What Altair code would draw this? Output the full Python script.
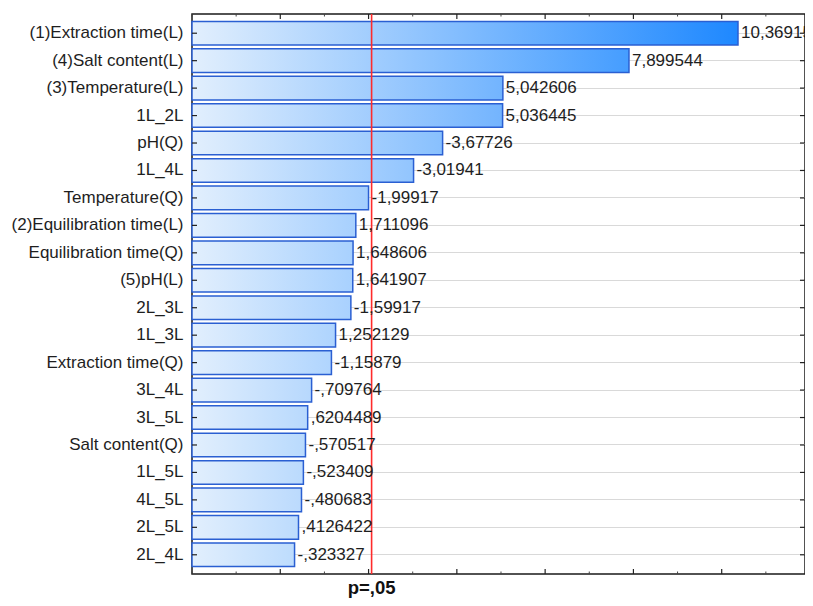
import altair as alt
import pandas as pd

terms = ["(1)Extraction time(L)", "(4)Salt content(L)", "(3)Temperature(L)", "1L_2L",
         "pH(Q)", "1L_4L", "Temperature(Q)", "(2)Equilibration time(L)",
         "Equilibration time(Q)", "(5)pH(L)", "2L_3L", "1L_3L", "Extraction time(Q)",
         "3L_4L", "3L_5L", "Salt content(Q)", "1L_5L", "4L_5L", "2L_5L", "2L_4L"]
effects = [10.36915, 7.899544, 5.042606, 5.036445, -3.67726, -3.01941, -1.99917,
           1.711096, 1.648606, 1.641907, -1.59917, 1.252129, -1.15879, -0.709764,
           0.6204489, -0.570517, -0.523409, -0.480683, 0.4126422, -0.323327]
labels = ["10,36915", "7,899544", "5,042606", "5,036445", "-3,67726", "-3,01941",
          "-1,99917", "1,711096", "1,648606", "1,641907", "-1,59917", "1,252129",
          "-1,15879", "-,709764", ",6204489", "-,570517", "-,523409", "-,480683",
          ",4126422", "-,323327"]
p_crit = 2.0687
p_label = "p=,05"
x_ticks = [-2, -1, 0, 1, 2, 3, 4, 5, 6, 7, 8, 9, 10, 11]
x_major = [0, 2, 4, 6, 8, 10]

df = pd.DataFrame({"term": terms, "effect": effects, "label": labels,
                   "absval": [abs(v) for v in effects]})

W, H = 613, 560
XMIN, XMAX = -2, 11.887
xs = alt.Scale(domain=[XMIN, XMAX], nice=False, zero=False)
ys = alt.Scale(domain=terms, paddingInner=0.14, paddingOuter=0.27)

FONT = "Liberation Sans"
c_start = (226, 239, 253)
c_end = (30, 136, 255)
v_end = max(abs(v) for v in effects)


def col_at(v):
    f = (v - XMIN) / (v_end - XMIN)
    f = max(0.0, min(1.0, f))
    r, g, b = [round(a + (b_ - a) * f) for a, b_ in zip(c_start, c_end)]
    return "#%02x%02x%02x" % (r, g, b)


def Y():
    return alt.Y("term:N", sort=terms, scale=ys, title=None)


def X(field="absval:Q"):
    return alt.X(field, scale=xs, axis=None)


layers = []
for t, v in zip(terms, effects):
    grad = alt.LinearGradient(
        gradient="linear",
        stops=[alt.GradientStop(color=col_at(XMIN), offset=0),
               alt.GradientStop(color=col_at(abs(v)), offset=1)],
        x1=0, x2=1, y1=0, y2=0,
    )
    layers.append(
        alt.Chart(df).transform_filter(alt.datum.term == t).mark_bar(
            color=grad, stroke="#2a5fd2", strokeWidth=1.5
        ).encode(x=X(), x2=alt.datum(XMIN), y=Y())
    )

text = alt.Chart(df).mark_text(align="left", baseline="middle", dx=3, fontSize=17,
                               font=FONT, color="#1e1e1e").encode(
    x=X(), y=Y(), text="label:N",
)

rule = alt.Chart(pd.DataFrame({"p": [p_crit]})).mark_rule(color="#ff2b2b", strokeWidth=1.6).encode(
    x=X("p:Q")
)

ptitle = alt.Chart(pd.DataFrame({"p": [p_crit], "t": [p_label]})).mark_text(
    align="center", baseline="alphabetic", fontSize=18.5, fontWeight="bold", font=FONT, color="#111"
).encode(x=X("p:Q"), y=alt.value(H + 20), text="t:N")

tdf = pd.DataFrame({"v": x_ticks, "major": [v in x_major for v in x_ticks]})
tick_major_b = alt.Chart(tdf).transform_filter("datum.major").mark_rule(color="#222", strokeWidth=1.2).encode(
    x=X("v:Q"), y=alt.value(H), y2=alt.value(H - 5))
tick_minor_b = alt.Chart(tdf).transform_filter("!datum.major").mark_rule(color="#444", strokeWidth=1).encode(
    x=X("v:Q"), y=alt.value(H), y2=alt.value(H - 2.5))
tick_major_t = alt.Chart(tdf).transform_filter("datum.major").mark_rule(color="#222", strokeWidth=1.2).encode(
    x=X("v:Q"), y=alt.value(0), y2=alt.value(5))
tick_minor_t = alt.Chart(tdf).transform_filter("!datum.major").mark_rule(color="#444", strokeWidth=1).encode(
    x=X("v:Q"), y=alt.value(0), y2=alt.value(2.5))

ytick_l = alt.Chart(df).mark_rule(color="#222", strokeWidth=1.2).encode(
    y=Y(), x=alt.value(0), x2=alt.value(5))
ytick_r = alt.Chart(df).mark_rule(color="#222", strokeWidth=1.2).encode(
    y=Y(), x=alt.value(W), x2=alt.value(W - 5))

chart = alt.layer(*layers, rule, text, ptitle, tick_major_b, tick_minor_b,
                  tick_major_t, tick_minor_t, ytick_l, ytick_r).properties(
    width=W, height=H,
    background="white",
    autosize=alt.AutoSizeParams(type="none"),
    padding={"left": 184, "top": 6, "right": 0, "bottom": 24},
).configure_view(stroke="#1a1a1a", strokeWidth=1.5).configure_axisY(
    grid=True, gridColor="#d9d9d9", gridWidth=1.2, ticks=False, domain=False,
    labelFontSize=17, labelFont=FONT, labelColor="#1e1e1e", labelPadding=9, labelLimit=400,
)

chart.save("out.html", embed_options={"renderer": "svg", "actions": False})
